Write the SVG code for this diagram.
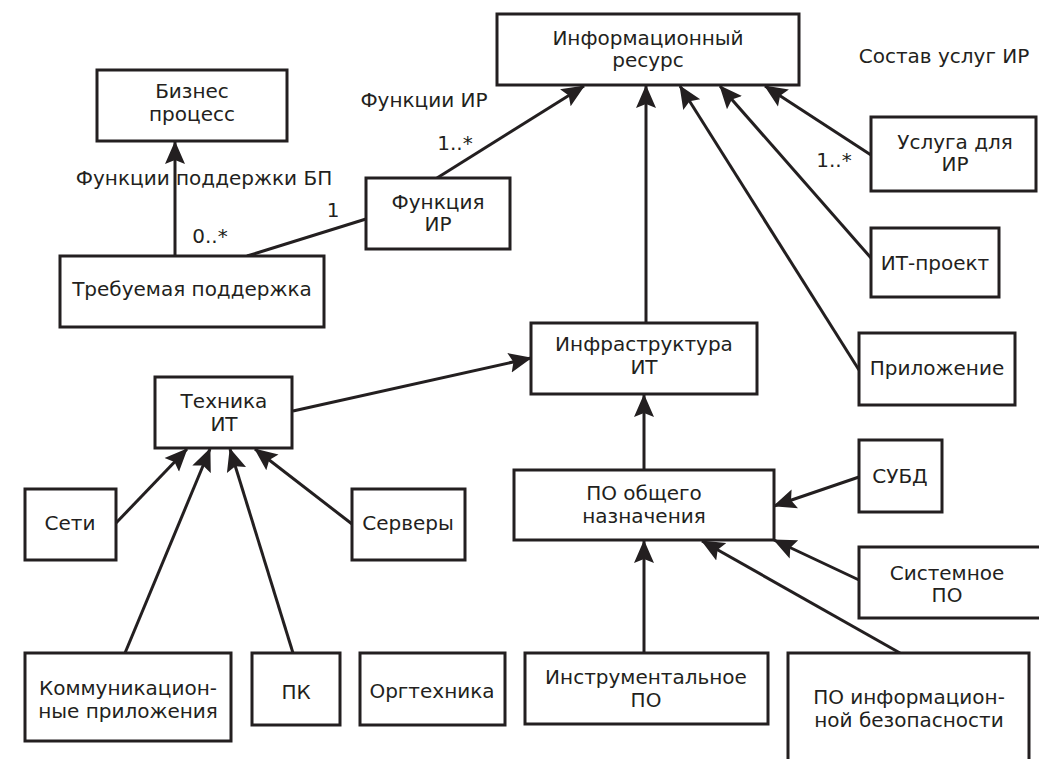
<svg xmlns="http://www.w3.org/2000/svg" width="1039" height="759" viewBox="0 0 1039 759">
<style>
.box{fill:#fff;stroke:#231f20;stroke-width:3}
text{font-family:"DejaVu Sans","Noto Sans",sans-serif;font-size:20px;fill:#231f20;text-anchor:middle}
.c{fill:none;stroke:#231f20;stroke-width:3}
.a{marker-end:url(#ah)}
</style>
<defs>
<marker id="ah" viewBox="0 -11 23 22" refX="22" refY="0" markerWidth="23" markerHeight="22" markerUnits="userSpaceOnUse" orient="auto">
<path d="M0,-10 L23,0 L0,10 L4,0 z" fill="#231f20"/>
</marker>
</defs>
<rect width="1039" height="759" fill="#fff"/>
<g id="connectors">
<line class="c a" x1="175" y1="256" x2="175" y2="142"/>
<line class="c" x1="247" y1="256" x2="366" y2="219"/>
<line class="c a" x1="437" y1="178" x2="584" y2="86"/>
<line class="c a" x1="646" y1="323" x2="646" y2="86"/>
<line class="c a" x1="859" y1="370" x2="680" y2="86"/>
<line class="c a" x1="871" y1="258" x2="720" y2="86"/>
<line class="c a" x1="871" y1="155" x2="765" y2="86"/>
<line class="c a" x1="293" y1="411" x2="531" y2="358"/>
<line class="c a" x1="644" y1="470" x2="644" y2="395"/>
<line class="c a" x1="859" y1="477" x2="774" y2="506"/>
<line class="c a" x1="859" y1="580" x2="774" y2="540"/>
<line class="c a" x1="644" y1="653" x2="644" y2="541"/>
<line class="c a" x1="900" y1="653" x2="702" y2="541"/>
<line class="c a" x1="116" y1="523" x2="187" y2="449"/>
<line class="c a" x1="352" y1="524" x2="255" y2="449"/>
<line class="c a" x1="125" y1="653" x2="210" y2="449"/>
<line class="c a" x1="293" y1="653" x2="230" y2="449"/>
</g>
<g id="labels">
<text x="204" y="185">Функции поддержки БП</text>
<text x="210" y="243">0..*</text>
<text x="333" y="217">1</text>
<text x="424" y="107">Функции ИР</text>
<text x="455" y="150">1..*</text>
<text x="944" y="63">Состав услуг ИР</text>
<text x="834" y="167">1..*</text>
</g>
<g id="n-bp"><rect class="box" x="97" y="70" width="190" height="71"/><text x="192" y="98">Бизнес</text><text x="192" y="121">процесс</text></g>
<g id="n-ir"><rect class="box" x="497" y="14" width="302" height="71"/><text x="648" y="45">Информационный</text><text x="648" y="67">ресурс</text></g>
<g id="n-func"><rect class="box" x="366" y="178" width="144" height="71"/><text x="438" y="209">Функция</text><text x="438" y="231">ИР</text></g>
<g id="n-req"><rect class="box" x="60" y="256" width="264" height="71"/><text x="192" y="296">Требуемая поддержка</text></g>
<g id="n-usl"><rect class="box" x="871" y="117" width="165" height="74"/><text x="955" y="149">Услуга для</text><text x="955" y="171">ИР</text></g>
<g id="n-itp"><rect class="box" x="871" y="228" width="128" height="69"/><text x="935" y="270">ИТ-проект</text></g>
<g id="n-app"><rect class="box" x="859" y="333" width="156" height="72"/><text x="937" y="375">Приложение</text></g>
<g id="n-infra"><rect class="box" x="531" y="323" width="226" height="71"/><text x="644" y="351">Инфраструктура</text><text x="644" y="374">ИТ</text></g>
<g id="n-tech"><rect class="box" x="155" y="377" width="137" height="71"/><text x="224" y="408">Техника</text><text x="224" y="431">ИТ</text></g>
<g id="n-set"><rect class="box" x="25" y="489" width="91" height="71"/><text x="70" y="530">Сети</text></g>
<g id="n-serv"><rect class="box" x="352" y="489" width="113" height="71"/><text x="408" y="530">Серверы</text></g>
<g id="n-po"><rect class="box" x="514" y="470" width="260" height="70"/><text x="644" y="500">ПО общего</text><text x="644" y="523">назначения</text></g>
<g id="n-subd"><rect class="box" x="859" y="440" width="83" height="72"/><text x="900" y="483">СУБД</text></g>
<g id="n-sys"><rect class="box" x="859" y="547" width="185" height="71"/><text x="947" y="580">Системное</text><text x="947" y="602">ПО</text></g>
<g id="n-comm"><rect class="box" x="25" y="653" width="206" height="88"/><text x="128" y="695">Коммуникацион-</text><text x="128" y="718">ные приложения</text></g>
<g id="n-pk"><rect class="box" x="252" y="653" width="88" height="72"/><text x="296" y="699">ПК</text></g>
<g id="n-org"><rect class="box" x="360" y="653" width="145" height="72"/><text x="432" y="698">Оргтехника</text></g>
<g id="n-instr"><rect class="box" x="525" y="653" width="243" height="71"/><text x="646" y="684">Инструментальное</text><text x="646" y="707">ПО</text></g>
<g id="n-sec"><rect class="box" x="788" y="653" width="241" height="110"/><text x="909" y="704">ПО информацион-</text><text x="909" y="727">ной безопасности</text></g>
</svg>
